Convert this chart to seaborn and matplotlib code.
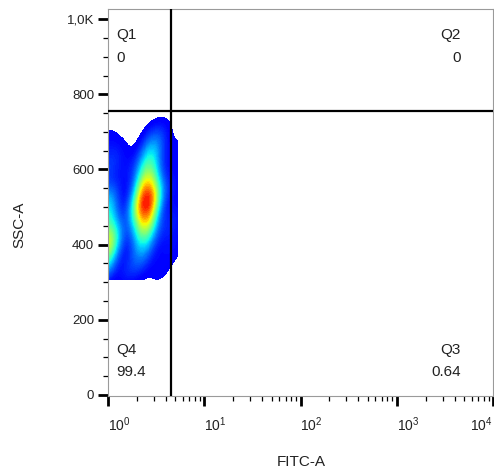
import numpy as np
import matplotlib
matplotlib.use("Agg")
import matplotlib.pyplot as plt
from matplotlib.colors import ListedColormap
from matplotlib.ticker import FixedLocator, LogLocator, NullFormatter, MultipleLocator
import seaborn as sns

# ---------------- data ----------------
# representative event clusters (FITC-A linear units, SSC-A, relative weight)
fitc_events = [0.97, 0.97, 0.95, 0.95, 0.95, 0.95, 0.95,
               2.5, 2.5, 2.5, 2.6, 2.8, 2.9, 2.4, 2.2, 2.05, 3.05,
               5.0, 5.0, 5.0, 5.0, 3.5, 1.6, 1.6, 3.6, 1.25, 1.3, 4.0]
ssc_events = [400, 440, 350, 480, 520, 600, 670,
              460, 510, 560, 610, 650, 680, 410, 360, 500, 530,
              400, 480, 560, 640, 340, 330, 600, 690, 640, 420, 440]
event_weights = [6, 3, 3, 2.5, 2.5, 1.2, 0.6,
                 6, 7.5, 6, 3.2, 1.6, 0.8, 2.6, 1.2, 2.2, 2.2,
                 0.6, 0.6, 0.6, 0.6, 0.6, 0.8, 0.6, 0.5, 0.6, 0.8, 0.7]

gate_fitc = 4.5
gate_ssc = 755
quadrant_names = ["Q1", "Q2", "Q3", "Q4"]
quadrant_values = ["0", "0", "0.64", "99.4"]

x_ticks = [1, 10, 100, 1000, 10000]
x_ticklabels = ["$10^{0}$", "$10^{1}$", "$10^{2}$", "$10^{3}$", "$10^{4}$"]
y_ticks = [0, 200, 400, 600, 800, 1000]
y_ticklabels = ["0", "200", "400", "600", "800", "1,0K"]

# ---------------- style ----------------
sns.set_style("white")
plt.rcParams["font.family"] = ["Liberation Sans", "DejaVu Sans"]
plt.rcParams["mathtext.fontset"] = "custom"
plt.rcParams["mathtext.rm"] = "Liberation Sans"
plt.rcParams["mathtext.it"] = "Liberation Sans"

jet = plt.get_cmap("jet")
cmap = ListedColormap(jet(np.linspace(0.11, 0.89, 256)))

fig = plt.figure(figsize=(4.94, 4.72), dpi=100)
ax = fig.add_axes([108 / 494, 76 / 472, 385 / 494, 387 / 472])

sns.kdeplot(x=fitc_events, y=ssc_events, weights=event_weights,
            log_scale=(True, False), fill=True, levels=60, thresh=0.012,
            cmap=cmap, bw_adjust=0.62, clip=((-0.2, 0.727), (306, 1000)),
            gridsize=250, ax=ax)

ax.set_xscale("log")
ax.set_xlim(1, 10000)
ax.set_ylim(-3, 1027)

ax.axvline(gate_fitc, color="black", lw=1.6, zorder=5)
ax.axhline(gate_ssc, color="black", lw=1.6, zorder=5)

for s in ax.spines.values():
    s.set_color("#9a9a9a")
    s.set_linewidth(0.8)

ax.xaxis.set_major_locator(FixedLocator(x_ticks))
ax.set_xticklabels(x_ticklabels)
ax.xaxis.set_minor_locator(LogLocator(base=10, subs=np.arange(2, 10), numticks=20))
ax.xaxis.set_minor_formatter(NullFormatter())
ax.yaxis.set_major_locator(FixedLocator(y_ticks))
ax.set_yticklabels(y_ticklabels)
ax.yaxis.set_minor_locator(MultipleLocator(50))

ax.tick_params(axis="both", which="major", direction="out", length=7, width=2,
               color="black", labelsize=9.5, labelcolor="#222222", pad=3,
               bottom=True, left=True)
ax.tick_params(axis="x", which="major", labelsize=10, pad=7)
ax.tick_params(axis="both", which="minor", direction="out", length=3.5, width=0.9,
               color="black", bottom=True, left=True)
labels = ax.get_xticklabels()
for i, lab in enumerate(labels):
    lab.set_ha("right" if i == len(labels) - 1 else "left")

fig.text(301 / 494, 1 - 462 / 472, "FITC-A", fontsize=11, color="#222222",
         ha="center", va="center")
fig.text(19 / 494, 1 - 225 / 472, "SSC-A", fontsize=11, color="#222222",
         ha="center", va="center", rotation=90)

txt = dict(fontsize=11, color="#222222", transform=ax.transAxes, va="top")
ax.text(8 / 385, 1 - 19 / 387, quadrant_names[0], ha="left", **txt)
ax.text(8 / 385, 1 - 42 / 387, quadrant_values[0], ha="left", **txt)
ax.text(1 - 32 / 385, 1 - 19 / 387, quadrant_names[1], ha="right", **txt)
ax.text(1 - 32 / 385, 1 - 42 / 387, quadrant_values[1], ha="right", **txt)
ax.text(1 - 32 / 385, 1 - 334 / 387, quadrant_names[2], ha="right", **txt)
ax.text(1 - 32 / 385, 1 - 356 / 387, quadrant_values[2], ha="right", **txt)
ax.text(8 / 385, 1 - 334 / 387, quadrant_names[3], ha="left", **txt)
ax.text(8 / 385, 1 - 356 / 387, quadrant_values[3], ha="left", **txt)

fig.savefig("out.png", dpi=100)
